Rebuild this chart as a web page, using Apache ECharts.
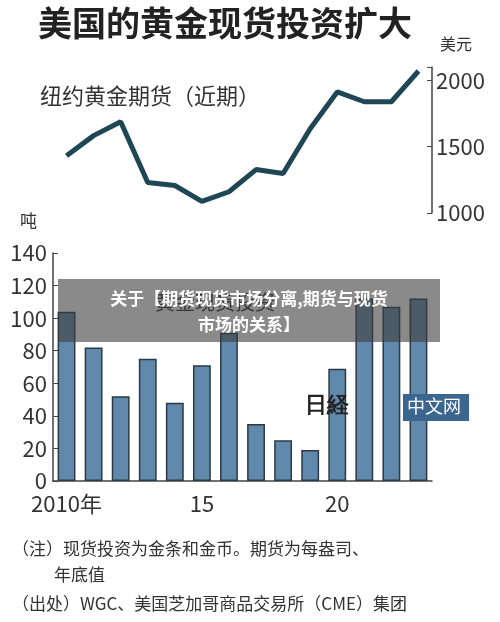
<!DOCTYPE html>
<html>
<head>
<meta charset="utf-8">
<script src="https://cdn.jsdelivr.net/npm/echarts@6/dist/echarts.min.js"></script>
<style>
  html, body { margin: 0; padding: 0; background: #fff; }
  #chart { width: 500px; height: 622px; }
</style>
</head>
<body>
<div id="chart"></div>
<script>
// years 2010 - 2023
let years = ['2010', '2011', '2012', '2013', '2014', '2015', '2016', '2017', '2018', '2019', '2020', '2021', '2022', '2023']
let yearLabels = { '2010': '2010年', '2015': '15', '2020': '20' }
// 纽约黄金期货, 美元/盎司, 年底值
let futures = [1432, 1583, 1688, 1230, 1207, 1087, 1160, 1327, 1297, 1635, 1912, 1838, 1838, 2070]
// 黄金现货投资, 吨
let spot = [104, 82, 52, 75, 48, 71, 91, 35, 25, 19, 69, 112, 107, 112]
let priceTicks = [1000, 1500, 2000]

let font = '"Noto Sans CJK SC", "Noto Sans", sans-serif'
let chart = echarts.init(document.getElementById('chart'))

let option = {
  backgroundColor: '#fff',
  animation: false,
  grid: [
    { left: 53, right: 68, top: 67, height: 146 },
    { left: 53, right: 68, top: 253, height: 228 }
  ],
  xAxis: [
    { gridIndex: 0, type: 'category', data: years, show: false },
    {
      gridIndex: 1, type: 'category', data: years,
      axisLine: { lineStyle: { color: '#444', width: 1.5 } },
      axisTick: { show: false },
      axisLabel: {
        interval: 0, margin: 12, color: '#333', fontSize: 22, fontFamily: font,
        formatter: v => yearLabels[v] || ''
      }
    }
  ],
  yAxis: [
    {
      gridIndex: 0, type: 'value', position: 'right', min: 1000, max: 2100, interval: 500,
      splitLine: { show: false },
      axisLine: { show: true, lineStyle: { color: '#444', width: 1.5 } },
      axisTick: { show: true, inside: true, length: 5 },
      axisLabel: {
        color: '#333', fontSize: 22, fontFamily: font, margin: 4,
        formatter: v => priceTicks.includes(v) ? v : ''
      }
    },
    {
      gridIndex: 1, type: 'value', min: 0, max: 140, interval: 20,
      splitLine: { show: false },
      axisLine: { show: true, lineStyle: { color: '#444', width: 1.5 } },
      axisTick: { show: true, inside: true, length: 5 },
      axisLabel: { color: '#333', fontSize: 22, fontFamily: font, margin: 6 }
    }
  ],
  series: [
    {
      type: 'line', xAxisIndex: 0, yAxisIndex: 0, data: futures,
      symbol: 'none', lineStyle: { color: '#1f4654', width: 5 }
    },
    {
      type: 'bar', xAxisIndex: 1, yAxisIndex: 1, data: spot,
      barCategoryGap: '34%',
      itemStyle: { color: '#6189ab', borderColor: '#2a3a46', borderWidth: 1.5 }
    }
  ],
  graphic: [
    { type: 'text', left: 38, top: 6, style: { text: '美国的黄金现货投资扩大', font: 'bold 34px ' + font, fill: '#222' } },
    { type: 'text', left: 440, top: 36, style: { text: '美元', font: '16px ' + font, fill: '#333' } },
    { type: 'text', left: 40, top: 85, style: { text: '纽约黄金期货（近期）', font: '22px ' + font, fill: '#333' } },
    { type: 'text', left: 20, top: 212, style: { text: '吨', font: '17px ' + font, fill: '#333' } },
    { type: 'text', left: 155, top: 292, style: { text: '黄金现货投资', font: '20px ' + font, fill: '#333' } },
    // watermark
    { type: 'text', left: 305, top: 395, z: 20, style: { text: '日経', font: 'bold 22px serif', fill: '#222' } },
    { type: 'rect', left: 403, top: 394, z: 20, shape: { width: 66, height: 27 }, style: { fill: '#3b6690' } },
    { type: 'text', left: 407, top: 397, z: 21, style: { text: '中文网', font: '18px ' + font, fill: '#fff' } },
    // banner
    { type: 'rect', left: 58, top: 279, z: 30, shape: { width: 382, height: 63 }, style: { fill: 'rgba(60,60,60,0.6)' } },
    { type: 'text', x: 249, y: 286, z: 31, style: { text: '关于【期货现货市场分离,期货与现货\n市场的关系】', font: 'bold 17px ' + font, fill: '#fff', align: 'center', lineHeight: 26 } },
    // notes
    { type: 'text', left: 12, top: 540, style: { text: '（注）现货投资为金条和金币。期货为每盎司、', font: '17px ' + font, fill: '#333' } },
    { type: 'text', left: 54, top: 566, style: { text: '年底值', font: '17px ' + font, fill: '#333' } },
    { type: 'text', left: 12, top: 595, style: { text: '（出处）WGC、美国芝加哥商品交易所（CME）集团', font: '17px ' + font, fill: '#333' } }
  ]
}

chart.setOption(option)
</script>
</body>
</html>
